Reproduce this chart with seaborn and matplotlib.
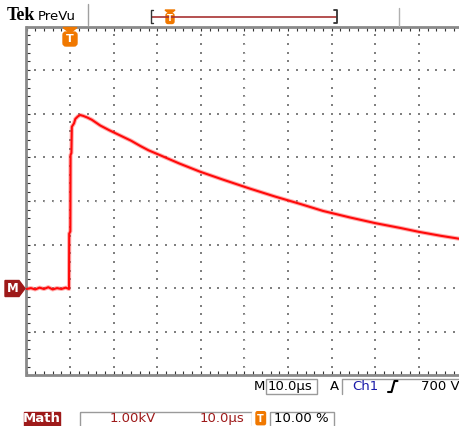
import numpy as np
import pandas as pd
import matplotlib
matplotlib.use("Agg")
import matplotlib.pyplot as plt
from matplotlib.patches import Rectangle, Polygon, FancyBboxPatch
import seaborn as sns

# ---- data (time in µs, voltage in kV) ----
time_us = [-10.0, -9.0, -8.0, -7.0, -6.0, -5.0, -4.0, -3.0, -2.0, -1.0, -0.5,
           -0.25, -0.2, 0.05, 0.1, 0.3, 0.4, 0.9, 1.2, 1.8, 2.3, 3.0, 4.0, 5.0,
           6.9, 9.0, 11.5, 14.0, 16.1, 18.0, 20.6, 25.0, 29.8, 35.0, 41.3, 47.0,
           52.8, 58.0, 64.2, 70.0, 75.7, 80.0, 85.0, 90.0]
volt_kv = [-0.02, 0.00, -0.03, 0.01, -0.02, 0.02, -0.03, 0.00, -0.02, 0.01, -0.01,
           -0.02, 1.25, 1.30, 3.05, 3.10, 3.70, 3.78, 3.88, 3.94, 3.97, 3.95, 3.91, 3.86,
           3.73, 3.62, 3.50, 3.38, 3.26, 3.16, 3.05, 2.86, 2.67, 2.49, 2.28, 2.10,
           1.93, 1.77, 1.62, 1.49, 1.38, 1.29, 1.20, 1.12]

x_range = (-10, 90)      # 10 µs/div, trigger at 10 %
y_range = (-2, 6)        # 1.00 kV/div

df = pd.DataFrame({"t": time_us, "v": volt_kv})

sns.set_style("white")
plt.rcParams["font.family"] = ["DejaVu Sans"]

W, H = 460, 426
fig = plt.figure(figsize=(W / 100, H / 100), dpi=100)
fig.patch.set_facecolor("white")

L, T, R, B = 26.5, 26.5, 462.5, 375.3
ax = fig.add_axes([L / W, 1 - B / H, (R - L) / W, (B - T) / H])
ax.set_xlim(*x_range)
ax.set_ylim(*y_range)
ax.set_facecolor("white")

# graticule (dotted)
gx = np.arange(x_range[0] + 10, x_range[1], 10)
gy = np.arange(y_range[0] + 1, y_range[1], 1)
dots_y = np.arange(y_range[0], y_range[1] + 0.01, 0.2)
dots_x = np.arange(x_range[0], x_range[1] + 0.01, 2)
for xv in gx:
    ax.scatter(np.full_like(dots_y, xv), dots_y, s=0.75, marker="s", color="#808080",
               linewidths=0, zorder=1)
for yv in gy:
    ax.scatter(dots_x, np.full_like(dots_x, yv), s=0.75, marker="s", color="#808080",
               linewidths=0, zorder=1)
# center-line tick marks
ax.scatter(np.full_like(dots_y, 40), dots_y, s=3, marker="_", color="#bdbdbd",
           linewidths=0.5, zorder=1)
ax.scatter(dots_x, np.full_like(dots_x, 2), s=3, marker="|", color="#bdbdbd",
           linewidths=0.5, zorder=1)

# noise band + trace
sns.lineplot(data=df, x="t", y="v", estimator=None, sort=False, ax=ax,
             color="#ff5050", lw=3.0, alpha=0.45, zorder=2)
sns.lineplot(data=df, x="t", y="v", estimator=None, sort=False, ax=ax,
             color="#ff0a0a", lw=1.5, zorder=3)
ax.set_xlabel("")
ax.set_ylabel("")

for side in ["left", "top", "bottom"]:
    ax.spines[side].set_visible(True)
    ax.spines[side].set_color("#8a8a8a")
    ax.spines[side].set_linewidth(2.0)
ax.spines["right"].set_visible(False)
ax.set_xticks(np.arange(x_range[0], x_range[1] + 0.01, 2))
ax.set_yticks(np.arange(y_range[0], y_range[1] + 0.01, 0.2))
ax.tick_params(axis="both", direction="in", length=3, width=0.8, color="#333333",
               labelbottom=False, labelleft=False, top=True, bottom=True,
               left=True, right=False)

# ---- overlay in pixel coordinates ----
ov = fig.add_axes([0, 0, 1, 1], zorder=10)
ov.set_xlim(0, W)
ov.set_ylim(H, 0)
ov.axis("off")
ov.patch.set_alpha(0)

ORANGE = "#f07800"
DRED = "#9e1a1a"

# header
ov.text(7, 15.5, "Tek", fontsize=13, fontweight="bold", family="Liberation Serif",
        ha="left", va="center", color="black")
ov.text(38, 16, "PreVu", fontsize=9.5, ha="left", va="center", color="black")
ov.plot([88, 88], [4, 25], color="#a0a0a0", lw=1)
ov.plot([152, 336], [17, 17], color="#a83232", lw=1.2)
ov.plot([153.5, 151, 151, 153.5], [10, 10, 23, 23], color="#333333", lw=1)
ov.plot([334.5, 337, 337, 334.5], [10, 10, 23, 23], color="#333333", lw=1.3)
ov.add_patch(Polygon([[165, 10], [175, 10], [170, 14]], closed=True, color=ORANGE))
ov.add_patch(FancyBboxPatch((166, 13.5), 8, 10, boxstyle="round,pad=0,rounding_size=2",
                            color=ORANGE))
ov.text(170, 18.8, "T", fontsize=6, fontweight="bold", color="white",
        ha="center", va="center")
ov.plot([399, 399], [8, 26], color="#b0b0b0", lw=1)

# trigger position marker
ov.add_patch(Polygon([[63, 27.5], [77, 27.5], [70, 33]], closed=True, color=ORANGE))
ov.add_patch(FancyBboxPatch((63, 32), 14, 14, boxstyle="round,pad=0,rounding_size=3",
                            color=ORANGE))
ov.text(70, 39.5, "T", fontsize=8, fontweight="bold", color="white",
        ha="center", va="center")

# math reference marker
ov.add_patch(Polygon([[5, 280.5], [19, 280.5], [25, 288.5], [19, 296.5], [5, 296.5]],
                     closed=True, color=DRED))
ov.text(12.5, 288.8, "M", fontsize=8.5, fontweight="bold", color="white",
        ha="center", va="center")

# status line 1
ov.text(254, 386, "M", fontsize=9.5, ha="left", va="center", color="black")
ov.add_patch(Rectangle((266, 379), 51, 15, fill=False, edgecolor="#9a9a9a", lw=1))
ov.text(268, 386.5, "10.0µs", fontsize=9.5, ha="left", va="center", color="black")
ov.text(330, 386, "A", fontsize=9.5, ha="left", va="center", color="black")
ov.plot([342, 342, 462], [394, 379, 379], color="#9a9a9a", lw=1)
ov.text(352, 386, "Ch1", fontsize=9.5, ha="left", va="center", color="#1a1aa8")
ov.plot([388, 391.5, 394.5, 397.5], [392, 392, 381, 381], color="black", lw=1.5)
ov.text(459.5, 386, "700 V", fontsize=9.5, ha="right", va="center", color="black")

# status line 2
ov.add_patch(Rectangle((24, 411.5), 36, 14, color=DRED))
ov.text(42, 418.5, "Math", fontsize=9.5, fontweight="bold", color="white",
        ha="center", va="center")
ov.add_patch(Rectangle((80, 411.5), 172, 20, fill=False, edgecolor="#9a9a9a", lw=1))
ov.text(110, 418.5, "1.00kV", fontsize=9.5, ha="left", va="center", color=DRED)
ov.text(200, 418.5, "10.0µs", fontsize=9.5, ha="left", va="center", color=DRED)
ov.add_patch(Rectangle((252, 411.5), 14, 20, color="white", zorder=3))
ov.add_patch(FancyBboxPatch((256, 411.7), 9.5, 13, boxstyle="round,pad=0,rounding_size=1.5",
                            color=ORANGE, zorder=4))
ov.text(260.7, 418.5, "T", fontsize=7, fontweight="bold", color="white",
        ha="center", va="center", zorder=5)
ov.add_patch(Rectangle((270, 411.5), 64, 20, fill=False, edgecolor="#9a9a9a", lw=1))
ov.text(274, 418.5, "10.00 %", fontsize=9.5, ha="left", va="center", color="black")

fig.savefig("out.png", dpi=100)
